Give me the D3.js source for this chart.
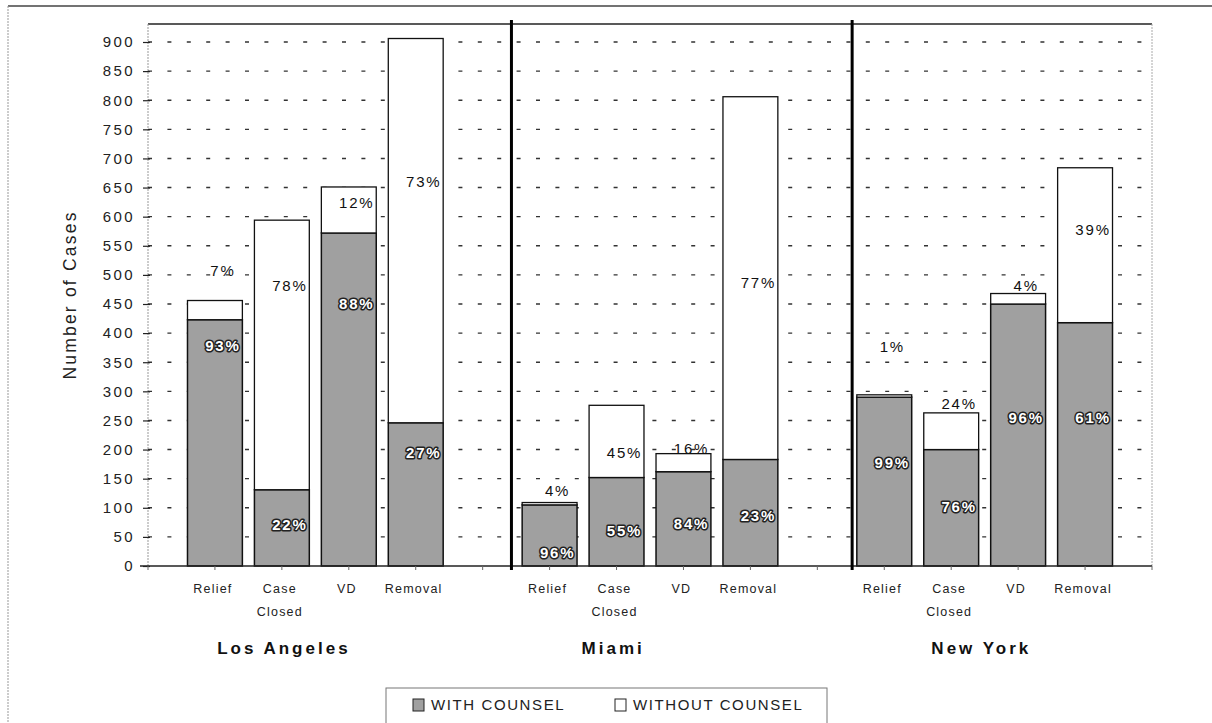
<!DOCTYPE html>
<html>
<head>
<meta charset="utf-8">
<script src="https://cdn.jsdelivr.net/npm/d3@7/dist/d3.min.js"></script>
<style>
  html, body { margin: 0; padding: 0; background: #fff; }
  svg { display: block; font-family: "Liberation Sans", Arial, sans-serif; }
</style>
</head>
<body>
<svg id="chart" width="1212" height="723"></svg>
<script>
// Immigration court outcomes by city, with and without counsel
const cities = ["Los Angeles", "Miami", "New York"];
const outcomes = ["Relief", "Case Closed", "VD", "Removal"];

// Number of cases per outcome (city order, then outcome order)
const withCounsel    = [423, 131, 572, 246,  105, 152, 162, 183,  290, 200, 450, 418];
const withoutCounsel = [ 33, 463,  79, 660,    4, 124,  31, 623,    4,  63,  18, 266];

// Where each percentage label sits, in case-count units
const withLabelAt    = [379,  70, 451, 195,   22,  60,  72,  87,  178, 102, 255, 255];
const withoutLabelAt = [507, 482, 624, 660,  130, 194, 202, 487,  376, 279, 482, 577];

const yTicks = d3.range(0, 901, 50);
const seriesNames = ["WITH COUNSEL", "WITHOUT COUNSEL"];

const svg = d3.select("#chart");
const plot = { left: 148, right: 1152, top: 24, bottom: 566 };

// 15 category slots: a spacer before each city block, four outcomes per city
const slotOf = (ci, oi) => ci * 5 + oi + 1;
const x = d3.scaleLinear().domain([0, 15]).range([plot.left, plot.right]);
const y = d3.scaleLinear().domain([0, 900]).range([plot.bottom, 42]);
const slotW = x(1) - x(0);
const barW = slotW * 0.82;
const withFill = "#a0a0a0";

const rows = [];
cities.forEach((c, ci) => outcomes.forEach((o, oi) => {
  const i = ci * 4 + oi;
  const w = withCounsel[i], wo = withoutCounsel[i], t = w + wo;
  rows.push({ city: c, outcome: o, slot: slotOf(ci, oi), w, wo, t,
              wPct: Math.round(100 * w / t), woPct: Math.round(100 * wo / t),
              wAt: withLabelAt[i], woAt: withoutLabelAt[i] });
}));

// outer frame
svg.append("line").attr("x1", 8).attr("x2", 1212).attr("y1", 6).attr("y2", 6)
  .attr("stroke", "#444").attr("stroke-width", 1.5);
svg.append("line").attr("x1", 8).attr("x2", 8).attr("y1", 6).attr("y2", 723)
  .attr("stroke", "#999").attr("stroke-width", 1).attr("stroke-dasharray", "2,1");

// plot border
svg.append("line").attr("x1", plot.left).attr("x2", plot.right).attr("y1", plot.top).attr("y2", plot.top)
  .attr("stroke", "#222").attr("stroke-width", 1.3);
svg.append("line").attr("x1", plot.right).attr("x2", plot.right).attr("y1", plot.top).attr("y2", plot.bottom)
  .attr("stroke", "#aaa").attr("stroke-width", 1).attr("stroke-dasharray", "2,1");
svg.append("line").attr("x1", plot.left).attr("x2", plot.left).attr("y1", plot.top).attr("y2", plot.bottom)
  .attr("stroke", "#999").attr("stroke-width", 1).attr("stroke-dasharray", "2,1");

// dashed gridlines
svg.append("g").selectAll("line").data(yTicks.filter(d => d > 0)).join("line")
  .attr("x1", plot.left).attr("x2", plot.right)
  .attr("y1", d => y(d)).attr("y2", d => y(d))
  .attr("stroke", "#333").attr("stroke-width", 1.4)
  .attr("stroke-dasharray", "4,15.4");

// y axis ticks and labels
const yAxis = d3.axisLeft(y).tickValues(yTicks).tickSize(7).tickSizeOuter(0).tickPadding(8);
const yg = svg.append("g").attr("transform", `translate(${plot.left + 2},0)`).call(yAxis);
yg.select(".domain").remove();
yg.selectAll(".tick line").attr("stroke", "#222").attr("stroke-width", 1.2);
yg.selectAll(".tick text").attr("font-size", 15).attr("fill", "#222")
  .attr("letter-spacing", 2.4).attr("font-family", "Liberation Sans, Arial, sans-serif")
  .attr("x", -15);

svg.append("text")
  .attr("transform", `translate(76,${(y(0) + y(900)) / 2 - 9}) rotate(-90)`)
  .attr("text-anchor", "middle").attr("font-size", 17.5).attr("letter-spacing", 2.2)
  .attr("fill", "#222").text("Number of Cases");

// stacked bars
const bars = svg.append("g");
bars.selectAll("rect.with").data(rows).join("rect").attr("class", "with")
  .attr("x", d => x(d.slot) - barW / 2).attr("width", barW)
  .attr("y", d => y(d.w)).attr("height", d => y(0) - y(d.w))
  .attr("fill", withFill).attr("stroke", "#111").attr("stroke-width", 1.5);
bars.selectAll("rect.without").data(rows).join("rect").attr("class", "without")
  .attr("x", d => x(d.slot) - barW / 2).attr("width", barW)
  .attr("y", d => y(d.t)).attr("height", d => y(d.w) - y(d.t))
  .attr("fill", "#fff").attr("stroke", "#111").attr("stroke-width", 1.3);

// baseline and category ticks
svg.append("line").attr("x1", plot.left - 8).attr("x2", plot.right).attr("y1", y(0)).attr("y2", y(0))
  .attr("stroke", "#222").attr("stroke-width", 1.5);
svg.append("g").selectAll("line").data(d3.range(0, 16)).join("line")
  .attr("x1", d => x(d)).attr("x2", d => x(d)).attr("y1", y(0)).attr("y2", y(0) + 4)
  .attr("stroke", "#666").attr("stroke-width", 1);

// city dividers
[5.43, 10.52].forEach(p => {
  svg.append("line").attr("x1", x(p)).attr("x2", x(p)).attr("y1", 20).attr("y2", 570)
    .attr("stroke", "#000").attr("stroke-width", 3);
});

// percentage labels
const labelDx = 8;
svg.append("g").selectAll("text").data(rows).join("text")
  .attr("x", d => x(d.slot) + labelDx).attr("y", d => y(d.woAt))
  .attr("dy", "0.35em").attr("text-anchor", "middle")
  .attr("font-size", 15).attr("letter-spacing", 1.8).attr("fill", "#111")
  .text(d => d.woPct + "%");
svg.append("g").selectAll("text").data(rows).join("text")
  .attr("x", d => x(d.slot) + labelDx).attr("y", d => y(d.wAt))
  .attr("dy", "0.35em").attr("text-anchor", "middle")
  .attr("font-size", 15).attr("font-weight", "bold").attr("letter-spacing", 1.8)
  .attr("fill", "#fff").attr("stroke", "#222").attr("stroke-width", 3)
  .attr("paint-order", "stroke").attr("stroke-linejoin", "round")
  .text(d => d.wPct + "%");

// category labels
const catG = svg.append("g");
rows.forEach(d => {
  const t = catG.append("text").attr("x", x(d.slot) - 2).attr("y", 593)
    .attr("text-anchor", "middle").attr("font-size", 12.5).attr("letter-spacing", 1.2).attr("fill", "#222");
  const parts = d.outcome.split(" ");
  parts.forEach((p, k) => t.append("tspan").attr("x", x(d.slot) - 2).attr("dy", k ? 23 : 0).text(p));
});

// city labels
const cityAt = [2.03, 6.95, 12.45];
svg.append("g").selectAll("text").data(cities).join("text")
  .attr("x", (d, i) => x(cityAt[i])).attr("y", 654)
  .attr("text-anchor", "middle").attr("font-size", 17).attr("font-weight", "bold")
  .attr("letter-spacing", 3).attr("fill", "#111").text(d => d);

// legend
const lg = svg.append("g");
lg.append("rect").attr("x", 386).attr("y", 688).attr("width", 441).attr("height", 40)
  .attr("fill", "#fff").attr("stroke", "#777").attr("stroke-width", 1);
const legendX = [413, 615];
const legendFill = [withFill, "#fff"];
seriesNames.forEach((n, i) => {
  lg.append("rect").attr("x", legendX[i]).attr("y", 699).attr("width", 11).attr("height", 12)
    .attr("fill", legendFill[i]).attr("stroke", "#222").attr("stroke-width", 1);
  lg.append("text").attr("x", legendX[i] + 18).attr("y", 710)
    .attr("font-size", 15).attr("letter-spacing", 1.6).attr("fill", "#222").text(n);
});
</script>
</body>
</html>
